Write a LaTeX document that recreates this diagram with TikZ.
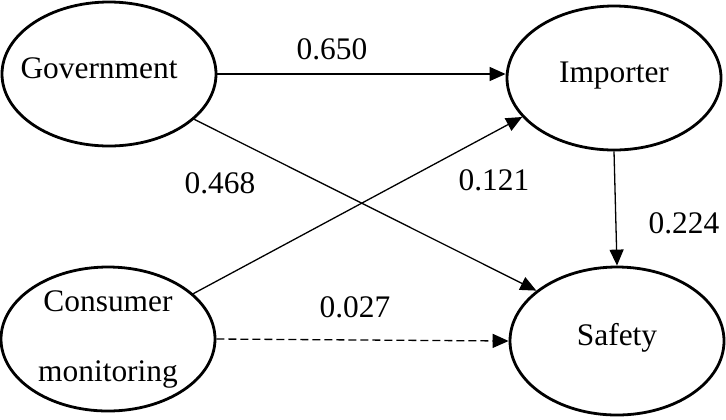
\documentclass[tikz,border=0pt]{standalone}
\usepackage{fontspec}
\setmainfont{Liberation Serif}
\usetikzlibrary{shapes.geometric,arrows.meta}

\begin{document}
\begin{tikzpicture}[x=0.5pt, y=-0.5pt,
    every node/.style={font=\fontsize{15.7pt}{35pt}\selectfont},
    latent/.style={draw, ellipse, line width=1.4pt, minimum width=107pt, minimum height=72pt, inner sep=-8pt},
    oneline/.style={text height=0.68em, text depth=0.22em},
    effect/.style={-{Triangle[length=8pt,width=7pt]}, line width=0.65pt},
    coef/.style={inner sep=0pt}]
    \useasboundingbox (0,0) rectangle (726,419);
    % constructs
    \node[latent, oneline] (gov) at (109,74) {Government\kern10pt};
    \node[latent, oneline] (imp) at (614,78) {Importer};
    \node[latent, align=center] (cons) at (108,339) {Consumer\\monitoring};
    \node[latent, oneline, minimum height=74pt] (saf) at (617,341) {Safety};
    % paths
    \draw[effect] (gov.east) -- (gov.east -| imp.west);
    \draw[effect] (gov.-28) -- (saf.148);
    \draw[effect] (cons.28) -- (imp.-157);
    \draw[effect, dash pattern=on 4pt off 2pt] (cons.east) -- (saf.west);
    \draw[effect] (imp.south) -- (saf.north);
    % coefficients
    \node[coef] (c1) at (332,49) {0.650};
    \node[coef] (c2) at (220,183) {0.468};
    \node[coef] (c3) at (494,180) {0.121};
    \node[coef] (c4) at (684,223) {0.224};
    \node[coef] (c5) at (355,307) {0.027};
\end{tikzpicture}
\end{document}
